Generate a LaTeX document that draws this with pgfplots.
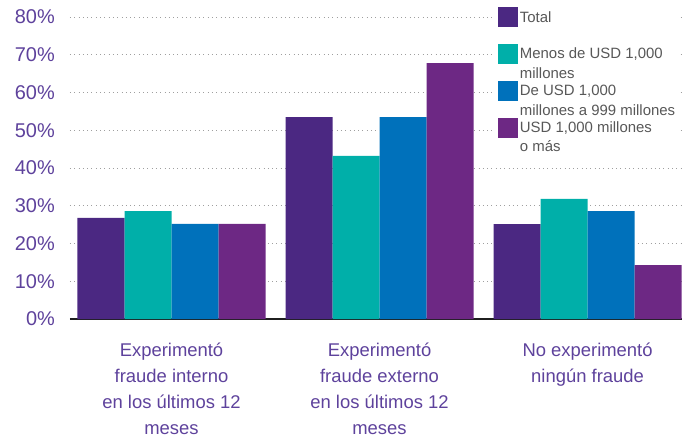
\documentclass[border=0pt]{standalone}
\usepackage{pgfplots}
\pgfplotsset{compat=1.18}
\usepackage{fontspec}
\setmainfont{Liberation Sans}
\definecolor{cTotal}{HTML}{4B2882}
\definecolor{cTeal}{HTML}{00AFA9}
\definecolor{cBlue}{HTML}{0071BB}
\definecolor{cPurp}{HTML}{6D2884}
\definecolor{cText}{HTML}{5E429C}
\definecolor{cLeg}{HTML}{585858}
\begin{document}
\begin{tikzpicture}
\begin{axis}[
  scale only axis, width=612bp, height=302bp,
  xmin=-0.488, xmax=2.454, ymin=0, ymax=80,
  ytick={0,10,...,80},
  yticklabel={\pgfmathprintnumber{\tick}\%},
  /pgf/number format/assume math mode=true,
  xtick={0,1,2},
  xticklabels={{Experimentó\\fraude interno\\en los últimos 12\\meses},
               {Experimentó\\fraude externo\\en los últimos 12\\meses},
               {No experimentó\\ningún fraude}},
  axis x line*=bottom, axis y line*=left,
  y axis line style={draw=none},
  x axis line style={draw=black!88, line width=2.5bp},
  major tick length=0pt,
  ymajorgrids, grid style={dash pattern=on 1bp off 3.3bp, gray!75, line width=1bp},
  yticklabel style={font=\fontsize{20}{24}\selectfont, text=cText, anchor=east, inner sep=0pt, xshift=-15bp},
  xticklabel style={align=center, font=\fontsize{18.5}{26}\selectfont, text=cText, inner sep=0pt, anchor=north, yshift=-24bp},
  bar width=0.226,
  legend cell align=left,
  legend style={at={(0.694,1.04)}, anchor=north west, draw=none, fill=white,
    font=\fontsize{15}{19.5}\selectfont, text=cLeg, nodes={align=left, xshift=4bp}, row sep=-1bp},
  legend image code/.code={\fill[#1,draw=none] (0bp,0bp) rectangle (20bp,20bp);},
]
\addplot[ybar, fill=cTotal, draw=none, bar shift=-0.339] coordinates {(0,26.8) (1,53.5) (2,25.1)};
\addplot[ybar, fill=cTeal, draw=none, bar shift=-0.113] coordinates {(0,28.6) (1,43.2) (2,31.8)};
\addplot[ybar, fill=cBlue, draw=none, bar shift=0.113] coordinates {(0,25.2) (1,53.5) (2,28.6)};
\addplot[ybar, fill=cPurp, draw=none, bar shift=0.339] coordinates {(0,25.2) (1,67.8) (2,14.3)};
\legend{{Total\\\mbox{}}, {Menos de USD 1,000\\millones}, {De USD 1,000\\millones a 999 millones}, {USD 1,000 millones\\o más}}
\end{axis}
\pgfresetboundingbox
\path (-70bp,-121bp) rectangle (612bp,319bp);
\end{tikzpicture}
\end{document}
